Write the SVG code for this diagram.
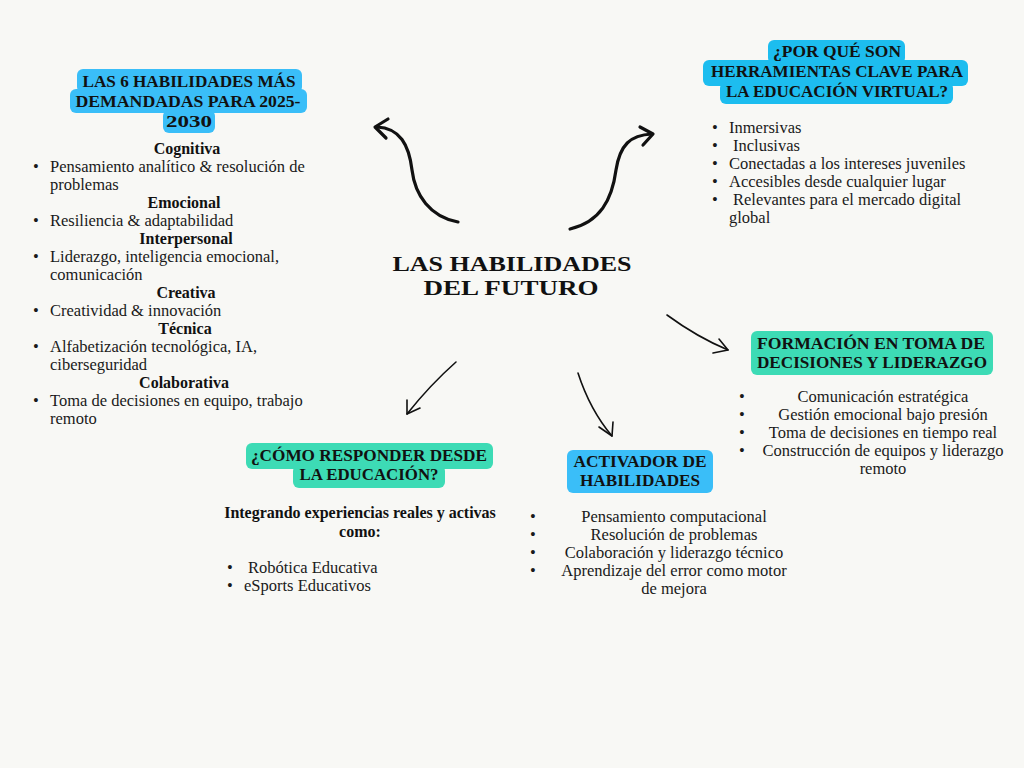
<svg xmlns="http://www.w3.org/2000/svg" width="1024" height="768" viewBox="0 0 1024 768">
<defs>
<style>
.bg{fill:#F8F8F5}
.hb{fill:#3ABEF8}
.hc{fill:#1DBDEF}
.ht{fill:#3DDBB5}
.tt{font-family:"Liberation Serif","Times New Roman",serif;font-weight:bold;font-size:17px;fill:#111}
.big{font-size:22px}
.b{font-family:"Liberation Serif","Times New Roman",serif;font-size:16.5px;fill:#1a1a1a}
.bh{font-family:"Liberation Serif","Times New Roman",serif;font-weight:bold;font-size:16px;fill:#111}
.c{text-anchor:middle}
.thick{fill:none;stroke:#111;stroke-width:3.2;stroke-linecap:round;stroke-linejoin:round}
.thin{fill:none;stroke:#111;stroke-width:1.6;stroke-linecap:round;stroke-linejoin:round}
</style>
</defs>
<rect class="bg" x="0" y="0" width="1024" height="768"/>

<g id="center">
<text class="tt big c" x="512" y="271" textLength="239" lengthAdjust="spacingAndGlyphs">LAS HABILIDADES</text>
<text class="tt big c" x="511" y="295" textLength="175" lengthAdjust="spacingAndGlyphs">DEL FUTURO</text>
</g>

<g id="node-habilidades">
<rect class="hb" x="77" y="69" width="225" height="24" rx="6"/>
<rect class="hb" x="70" y="89" width="237" height="24" rx="6"/>
<rect class="hb" x="163" y="110" width="52" height="23" rx="6"/>
<text class="tt c" x="189" y="87" textLength="213" lengthAdjust="spacingAndGlyphs">LAS 6 HABILIDADES MÁS</text>
<text class="tt c" x="188" y="107" textLength="225" lengthAdjust="spacingAndGlyphs">DEMANDADAS PARA 2025-</text>
<text class="tt c" x="189" y="127" textLength="46" lengthAdjust="spacingAndGlyphs">2030</text>
<text class="bh c" x="187" y="154">Cognitiva</text>
<text class="b" x="33" y="172">•</text><text class="b" x="50" y="172">Pensamiento analítico &amp; resolución de</text>
<text class="b" x="50" y="190">problemas</text>
<text class="bh c" x="184" y="208">Emocional</text>
<text class="b" x="33" y="226">•</text><text class="b" x="50" y="226">Resiliencia &amp; adaptabilidad</text>
<text class="bh c" x="186" y="244">Interpersonal</text>
<text class="b" x="33" y="262">•</text><text class="b" x="50" y="262">Liderazgo, inteligencia emocional,</text>
<text class="b" x="50" y="280">comunicación</text>
<text class="bh c" x="186" y="298">Creativa</text>
<text class="b" x="33" y="316">•</text><text class="b" x="50" y="316">Creatividad &amp; innovación</text>
<text class="bh c" x="185" y="334">Técnica</text>
<text class="b" x="33" y="352">•</text><text class="b" x="50" y="352">Alfabetización tecnológica, IA,</text>
<text class="b" x="50" y="370">ciberseguridad</text>
<text class="bh c" x="184" y="388">Colaborativa</text>
<text class="b" x="33" y="406">•</text><text class="b" x="50" y="406">Toma de decisiones en equipo, trabajo</text>
<text class="b" x="50" y="424">remoto</text>
</g>

<g id="node-herramientas">
<rect class="hc" x="768" y="40" width="137" height="24" rx="6"/>
<rect class="hc" x="703" y="60" width="265" height="26" rx="6"/>
<rect class="hc" x="720" y="82" width="233" height="22" rx="6"/>
<text class="tt c" x="837" y="57" textLength="128" lengthAdjust="spacingAndGlyphs">¿POR QUÉ SON</text>
<text class="tt c" x="837" y="77" textLength="252" lengthAdjust="spacingAndGlyphs">HERRAMIENTAS CLAVE PARA</text>
<text class="tt c" x="837" y="97" textLength="222" lengthAdjust="spacingAndGlyphs">LA EDUCACIÓN VIRTUAL?</text>
<text class="b" x="712" y="133">•</text><text class="b" x="729" y="133">Inmersivas</text>
<text class="b" x="712" y="151">•</text><text class="b" x="733" y="151">Inclusivas</text>
<text class="b" x="712" y="169">•</text><text class="b" x="729" y="169">Conectadas a los intereses juveniles</text>
<text class="b" x="712" y="187">•</text><text class="b" x="729" y="187">Accesibles desde cualquier lugar</text>
<text class="b" x="712" y="205">•</text><text class="b" x="733" y="205">Relevantes para el mercado digital</text>
<text class="b" x="729" y="223">global</text>
</g>

<g id="node-formacion">
<rect class="ht" x="751" y="331" width="242" height="44" rx="6"/>
<text class="tt c" x="871" y="349" textLength="228" lengthAdjust="spacingAndGlyphs">FORMACIÓN EN TOMA DE</text>
<text class="tt c" x="872" y="368" textLength="230" lengthAdjust="spacingAndGlyphs">DECISIONES Y LIDERAZGO</text>
<text class="b" x="739" y="402">•</text><text class="b c" x="883" y="402">Comunicación estratégica</text>
<text class="b" x="739" y="420">•</text><text class="b c" x="883" y="420">Gestión emocional bajo presión</text>
<text class="b" x="739" y="438">•</text><text class="b c" x="883" y="438">Toma de decisiones en tiempo real</text>
<text class="b" x="739" y="456">•</text><text class="b c" x="883" y="456">Construcción de equipos y liderazgo</text>
<text class="b c" x="883" y="474">remoto</text>
</g>

<g id="node-responder">
<rect class="ht" x="246" y="443" width="247" height="26" rx="6"/>
<rect class="ht" x="293" y="465" width="152" height="23" rx="6"/>
<text class="tt c" x="369" y="461" textLength="236" lengthAdjust="spacingAndGlyphs">¿CÓMO RESPONDER DESDE</text>
<text class="tt c" x="369" y="480" textLength="139" lengthAdjust="spacingAndGlyphs">LA EDUCACIÓN?</text>
<text class="bh c" x="360" y="518">Integrando experiencias reales y activas</text>
<text class="bh c" x="360" y="537">como:</text>
<text class="b" x="227" y="573">•</text><text class="b" x="248" y="573">Robótica Educativa</text>
<text class="b" x="227" y="591">•</text><text class="b" x="244" y="591">eSports Educativos</text>
</g>

<g id="node-activador">
<rect class="hb" x="567" y="450" width="146" height="43" rx="6"/>
<text class="tt c" x="640" y="467" textLength="133" lengthAdjust="spacingAndGlyphs">ACTIVADOR DE</text>
<text class="tt c" x="640" y="486" textLength="120" lengthAdjust="spacingAndGlyphs">HABILIDADES</text>
<text class="b" x="530" y="522">•</text><text class="b c" x="674" y="522">Pensamiento computacional</text>
<text class="b" x="530" y="540">•</text><text class="b c" x="674" y="540">Resolución de problemas</text>
<text class="b" x="530" y="558">•</text><text class="b c" x="674" y="558">Colaboración y liderazgo técnico</text>
<text class="b" x="530" y="576">•</text><text class="b c" x="674" y="576">Aprendizaje del error como motor</text>
<text class="b c" x="674" y="594">de mejora</text>
</g>

<g id="connectors">
<path class="thick" d="M458,222 C430,217 415,195 412,170 C409,145 400,128 377,127"/>
<path class="thick" d="M388,119 L375,127 L386,138"/>
<path class="thick" d="M570,229 C600,222 612,200 616,170 C620,145 630,135 652,134"/>
<path class="thick" d="M640,127 L653,134 L643,145"/>
<path class="thin" d="M667,315 Q697,337 728,350"/>
<path class="thin" d="M719,339 L728,350 L713,353"/>
<path class="thin" d="M456,362 Q430,385 407,414"/>
<path class="thin" d="M407,400 L407,414 L420,408"/>
<path class="thin" d="M578,373 Q590,410 612,436"/>
<path class="thin" d="M599,427 L612,436 L613,422"/>
</g>
</svg>
